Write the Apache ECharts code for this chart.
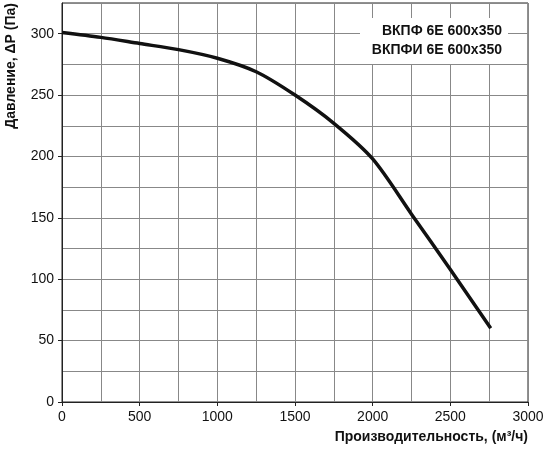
<!DOCTYPE html>
<html>
<head>
<meta charset="utf-8">
<script src="https://cdn.jsdelivr.net/npm/echarts@6/dist/echarts.min.js"></script>
<style>html,body{margin:0;padding:0;background:#fff}#c{width:550px;height:450px}</style>
</head>
<body>
<div id="c"></div>
<script>
// расход, м³/ч
const flow = [0, 250, 500, 750, 1000, 1250, 1500, 1750, 2000, 2250, 2500, 2760]
// давление, Па
const pressure = [301, 297, 292, 287, 280, 269, 250, 227, 198, 153, 108, 60]
const models = ['ВКПФ 6Е 600х350', 'ВКПФИ 6Е 600х350']

const chart = echarts.init(document.getElementById('c'))
const font = 'Arial, "Liberation Sans", sans-serif'
chart.setOption({
  animation: false,
  grid: { left: 62, right: 22, top: 2, bottom: 48, show: true, borderColor: '#222', borderWidth: 1 },
  xAxis: {
    type: 'value', min: 0, max: 3000, interval: 500,
    name: 'Производительность, (м³/ч)', nameLocation: 'end', nameGap: 0,
    nameTextStyle: { fontFamily: font, fontWeight: 'bold', fontSize: 14, color: '#111', align: 'right', verticalAlign: 'top', padding: [28, 0, 0, 0] },
    axisLine: { lineStyle: { color: '#222' } },
    axisTick: { length: 4, lineStyle: { color: '#222' } },
    axisLabel: { fontFamily: font, fontSize: 14, color: '#111', margin: 8, formatter: v => String(v) },
    splitLine: { lineStyle: { color: '#888' } },
    minorTick: { show: false, splitNumber: 2 },
    minorSplitLine: { show: true, lineStyle: { color: '#888' } }
  },
  yAxis: {
    type: 'value', min: 0, max: 325, interval: 50,
    name: 'Давление, ΔP (Па)', nameLocation: 'end', nameRotate: 90, nameGap: 0,
    nameTextStyle: { fontFamily: font, fontWeight: 'bold', fontSize: 14, color: '#111', align: 'right', verticalAlign: 'bottom', padding: [0, 0, 44, 0] },
    axisLine: { show: true, lineStyle: { color: '#222' } },
    axisTick: { show: true, length: 4, lineStyle: { color: '#222' } },
    axisLabel: { fontFamily: font, fontSize: 14, color: '#111', margin: 8, showMaxLabel: false },
    splitLine: { lineStyle: { color: '#888' } },
    minorTick: { show: false, splitNumber: 2 },
    minorSplitLine: { show: true, lineStyle: { color: '#888' } }
  },
  graphic: [{
    type: 'group', left: 360, top: 18, z: 100,
    children: [
      { type: 'rect', z: 100, shape: { x: 0, y: 0, width: 148, height: 46 }, style: { fill: '#fff' } },
      { type: 'text', z: 101, style: { x: 142, y: 6, text: models[0], textAlign: 'right', font: 'bold 14px ' + font, fill: '#111' } },
      { type: 'text', z: 101, style: { x: 142, y: 25, text: models[1], textAlign: 'right', font: 'bold 14px ' + font, fill: '#111' } }
    ]
  }],
  series: [{
    type: 'line', smooth: 0.3, showSymbol: false,
    data: flow.map((f, i) => [f, pressure[i]]),
    lineStyle: { color: '#111', width: 3.5 }
  }]
})
</script>
</body>
</html>
